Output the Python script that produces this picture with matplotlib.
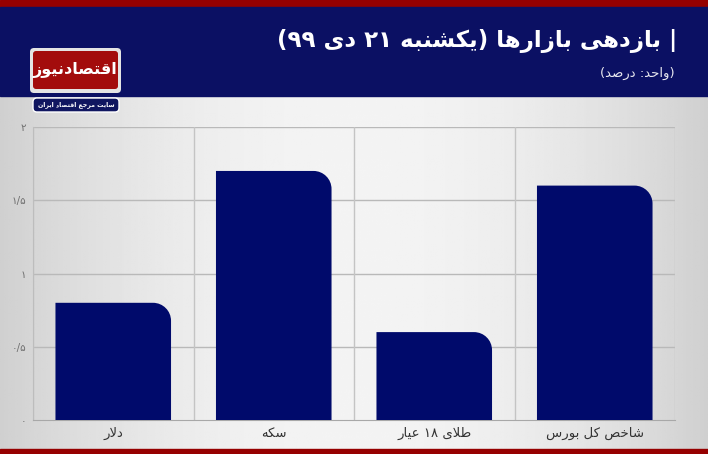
#!/usr/bin/env python3
"""بازدهی بازارها — نمودار ستونی با سربرگ اقتصادنیوز."""

import re

import numpy as np
import matplotlib

matplotlib.use("Agg")
import matplotlib.pyplot as plt
from matplotlib.patches import Rectangle, FancyBboxPatch, PathPatch
from matplotlib.path import Path

plt.rcParams["font.family"] = ["DejaVu Sans"]

# ---- data ----
categories = ["دلار", "سکه", "طلای ۱۸ عیار", "شاخص کل بورس"]
returns = [0.8, 1.7, 0.6, 1.6]
yticks = [0, 0.5, 1, 1.5, 2]
ytick_labels = ["۰", "۰/۵", "۱", "۱/۵", "۲"]
title = "| بازدهی بازارها (یکشنبه ۲۱ دی ۹۹)"
subtitle = "(واحد: درصد)"
logo_name = "اقتصادنیوز"
logo_tag = "سایت مرجع اقتصاد ایران"

NAVY = "#000a6b"
HEAD = "#0b1063"
RED = "#960000"

# ---- crude persian shaping + rtl (matplotlib does neither) ----
FORMS = {
    "ا": (0xFE8D, 0xFE8E, None, None),
    "ب": (0xFE8F, 0xFE90, 0xFE91, 0xFE92),
    "ت": (0xFE95, 0xFE96, 0xFE97, 0xFE98),
    "ج": (0xFE9D, 0xFE9E, 0xFE9F, 0xFEA0),
    "ح": (0xFEA1, 0xFEA2, 0xFEA3, 0xFEA4),
    "خ": (0xFEA5, 0xFEA6, 0xFEA7, 0xFEA8),
    "د": (0xFEA9, 0xFEAA, None, None),
    "ر": (0xFEAD, 0xFEAE, None, None),
    "ز": (0xFEAF, 0xFEB0, None, None),
    "س": (0xFEB1, 0xFEB2, 0xFEB3, 0xFEB4),
    "ش": (0xFEB5, 0xFEB6, 0xFEB7, 0xFEB8),
    "ص": (0xFEB9, 0xFEBA, 0xFEBB, 0xFEBC),
    "ط": (0xFEC1, 0xFEC2, 0xFEC3, 0xFEC4),
    "ع": (0xFEC9, 0xFECA, 0xFECB, 0xFECC),
    "ق": (0xFED5, 0xFED6, 0xFED7, 0xFED8),
    "ک": (0xFB8E, 0xFB8F, 0xFB90, 0xFB91),
    "ل": (0xFEDD, 0xFEDE, 0xFEDF, 0xFEE0),
    "م": (0xFEE1, 0xFEE2, 0xFEE3, 0xFEE4),
    "ن": (0xFEE5, 0xFEE6, 0xFEE7, 0xFEE8),
    "ه": (0xFEE9, 0xFEEA, 0xFEEB, 0xFEEC),
    "و": (0xFEED, 0xFEEE, None, None),
    "ی": (0xFBFC, 0xFBFD, 0xFBFE, 0xFBFF),
}


def _joins_next(c):
    return c in FORMS and FORMS[c][2] is not None


def shape(s):
    out = []
    i, n = 0, len(s)
    while i < n:
        c = s[i]
        if c not in FORMS:
            out.append(c)
            i += 1
            continue
        jp = i > 0 and _joins_next(s[i - 1])
        if c == "ل" and i + 1 < n and s[i + 1] == "ا":
            out.append(chr(0xFEFC if jp else 0xFEFB))
            i += 2
            continue
        jn = _joins_next(c) and i + 1 < n and s[i + 1] in FORMS
        iso, fin, ini, med = FORMS[c]
        g = med if (jp and jn) else fin if jp else ini if jn else iso
        out.append(chr(g))
        i += 1
    return "".join(out)


def fa(s):
    toks = re.findall(r"[0-9۰-۹/]+|.", shape(s))
    mirror = {"(": ")", ")": "("}
    return "".join(mirror.get(t, t) for t in reversed(toks))


# ---- figure ----
W, H = 708, 454
fig = plt.figure(figsize=(W / 100, H / 100), dpi=100)
bg = fig.add_axes([0, 0, 1, 1])
bg.set_xlim(0, W)
bg.set_ylim(H, 0)
bg.axis("off")

# gray gradient, lighter in the middle
xs = np.linspace(-1, 1, 300)
prof = 0.955 - 0.14 * xs ** 2
bg.imshow(np.tile(prof, (10, 1)), cmap="gray", vmin=0, vmax=1, aspect="auto",
          extent=(0, W, H, 0), zorder=0)

bg.add_patch(Rectangle((0, 0), W, 7, color=RED, zorder=1))
bg.add_patch(Rectangle((0, 7), W, 89, color=HEAD, zorder=1))
bg.add_patch(Rectangle((0, 449), W, 5, color=RED, zorder=1))

bg.text(677, 41, fa(title), color="white", fontsize=16.5, fontweight="bold",
        ha="right", va="center", zorder=3)
bg.text(675, 73, fa(subtitle), color="#e6e6ee", fontsize=9.5,
        ha="right", va="center", zorder=3)

# logo
bg.add_patch(FancyBboxPatch((30, 48), 91, 45, boxstyle="round,pad=0,rounding_size=4",
                            fc="#e4e4e4", ec="none", zorder=2))
bg.add_patch(FancyBboxPatch((33, 51), 85, 38, boxstyle="round,pad=0,rounding_size=3",
                            fc="#a30c0c", ec="none", zorder=3))
bg.text(75.5, 70, fa(logo_name), color="white", fontsize=11.5, fontweight="bold",
        ha="center", va="center", zorder=4)
bg.add_patch(FancyBboxPatch((33, 98), 86, 14, boxstyle="round,pad=0,rounding_size=4",
                            fc="#101660", ec="white", lw=1.0, zorder=3))
bg.text(76, 105, fa(logo_tag), color="white", fontsize=4.5, fontweight="bold",
        ha="center", va="center", zorder=4)

# ---- plot ----
ax = fig.add_axes([33 / W, (H - 420) / H, 642 / W, 293 / H])
ax.patch.set_alpha(0)
x = np.arange(len(categories))
ax.set_xlim(-0.5, len(categories) - 0.5)
ax.set_ylim(0, 2)

bars = ax.bar(x, returns, width=0.72, color=NAVY, zorder=3)

# round only the top-right corner of each bar (radius in pixels)
fig.canvas.draw()
px_x = 1 / (ax.transData.transform((1, 0))[0] - ax.transData.transform((0, 0))[0])
px_y = 1 / (ax.transData.transform((0, 1))[1] - ax.transData.transform((0, 0))[1])
rx, ry = 18 * px_x, 18 * px_y
k = 0.5523
for b in bars:
    x0, y0, w, h = b.get_x(), b.get_y(), b.get_width(), b.get_height()
    x1, y1 = x0 + w, y0 + h
    verts = [(x0, y0), (x1, y0), (x1, y1 - ry),
             (x1, y1 - ry + k * ry), (x1 - rx + k * rx, y1), (x1 - rx, y1),
             (x0, y1), (x0, y0)]
    codes = [Path.MOVETO, Path.LINETO, Path.LINETO,
             Path.CURVE4, Path.CURVE4, Path.CURVE4,
             Path.LINETO, Path.CLOSEPOLY]
    ax.add_patch(PathPatch(Path(verts, codes), fc=NAVY, ec="none", zorder=3))
    b.set_visible(False)

for yv in yticks[1:]:
    ax.axhline(yv, color="#b9b9b9", lw=1.0, zorder=1)
for xv in np.arange(-0.5, len(categories), 1.0):
    ax.axvline(xv, color="#c4c4c4", lw=1.0, zorder=1)

for s in ["top", "right"]:
    ax.spines[s].set_visible(False)
ax.spines["left"].set_color("#bdbdbd")
ax.spines["bottom"].set_color("#a8a8a8")

ax.set_yticks(yticks)
ax.set_yticklabels([fa(t) for t in ytick_labels], fontsize=7.5, color="#707070")
ax.set_xticks(x)
ax.set_xticklabels([fa(c) for c in categories], fontsize=9.5, color="#333333")
ax.tick_params(axis="both", length=0)
ax.tick_params(axis="y", pad=5)
ax.tick_params(axis="x", pad=5)

fig.savefig("out.png", dpi=100)
